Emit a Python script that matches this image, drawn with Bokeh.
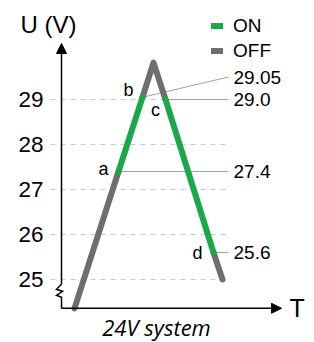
from bokeh.plotting import figure
from bokeh.models import (Range1d, FixedTicker, Label, Arrow, NormalHead,
                          Legend, LegendItem)
from bokeh.embed import file_html
from bokeh.resources import INLINE

# ---------------- data ----------------
point_names = ["start", "a", "b", "peak", "c", "d", "end"]
times = [13, 57, 81, 92, 104, 152, 161]          # T (arbitrary units)
volts = [24.36, 27.4, 29.05, 29.82, 29.0, 25.6, 25.0]  # U (V)
y_ticks = [25, 26, 27, 28, 29]
y_tick_labels = ["25", "26", "27", "28", "29"]

on_runs = [["a", "b"], ["c", "d"]]
off_runs = [["start", "a"], ["b", "peak", "c"], ["d", "end"]]

callout_points = ["b", "c", "a", "d"]
callout_texts = ["29.05", "29.0", "27.4", "25.6"]
callout_label_v = [29.5, 29.0, 27.4, 25.6]

letter_points = ["a", "b", "c", "d"]
letter_offsets = [(-15, 3), (-14, 7), (-10, -10), (-16, 0)]

# ---------------- styles ----------------
GREEN = "#1ba84a"
GRAY = "#6e6e6e"
GRID = "#c8c8c8"
LEADER = "#a0a0a0"
FONT = "Liberation Sans"
PX_V = 1 / 45.0   # volts per pixel

idx = {n: i for i, n in enumerate(point_names)}
t_of = lambda n: times[idx[n]]
v_of = lambda n: volts[idx[n]]

W, H = 314, 342
p = figure(width=W, height=H, output_backend="svg", toolbar_location=None,
           x_axis_location=None, y_axis_location="left",
           x_range=Range1d(-61, 253),
           y_range=Range1d(29 - 243 * PX_V, 29 + 99 * PX_V),
           min_border_left=0, min_border_right=0, min_border_top=0,
           min_border_bottom=0)
p.outline_line_color = None
p.xgrid.visible = False
p.ygrid.visible = False

ax = p.yaxis[0]
ax.fixed_location = -16
ax.ticker = FixedTicker(ticks=y_ticks)
ax.major_label_overrides = {t: s for t, s in zip(y_ticks, y_tick_labels)}
ax.axis_line_color = None
ax.major_tick_line_color = None
ax.minor_tick_line_color = None
ax.major_tick_out = 0
ax.major_tick_in = 0
ax.major_label_standoff = 2
ax.major_label_text_font = FONT
ax.major_label_text_font_size = "22.5px"
ax.major_label_text_color = "black"

# dashed guide lines
p.segment(x0=[-11] * len(y_ticks), x1=[167] * len(y_ticks), y0=y_ticks,
          y1=y_ticks, line_color=GRID, line_width=1, line_dash="5 5")

# axes
floor_v = volts[0]
# y axis lower part with break mark
bx = [0, 0, -5, 1, -5, 0, 0]
by_px = [0, 11, 13, 17, 19, 24, 24]
p.line(x=bx, y=[floor_v + d * PX_V for d in by_px], line_color="black",
       line_width=1.5, line_join="miter")
p.add_layout(Arrow(end=NormalHead(size=10, fill_color="black",
                                  line_color="black", line_width=1),
                   x_start=0, y_start=floor_v + 24 * PX_V,
                   x_end=0, y_end=29 + 56 * PX_V,
                   line_color="black", line_width=1.5))
p.add_layout(Arrow(end=NormalHead(size=10, fill_color="black",
                                  line_color="black", line_width=1),
                   x_start=0, y_start=floor_v, x_end=220, y_end=floor_v,
                   line_color="black", line_width=1.5))

# leader lines
p.segment(x0=[t_of(n) for n in callout_points],
          y0=[v_of(n) for n in callout_points],
          x1=[167] * len(callout_points), y1=callout_label_v,
          line_color=LEADER, line_width=1)

# main traces
off_r = p.multi_line(xs=[[t_of(n) for n in r] for r in off_runs],
                     ys=[[v_of(n) for n in r] for r in off_runs],
                     line_color=GRAY, line_width=6, line_cap="round",
                     line_join="round")
on_r = p.multi_line(xs=[[t_of(n) for n in r] for r in on_runs],
                    ys=[[v_of(n) for n in r] for r in on_runs],
                    line_color=GREEN, line_width=6, line_cap="round",
                    line_join="round")

for txt, v in zip(callout_texts, callout_label_v):
    p.add_layout(Label(x=172, y=v, text=txt, text_baseline="middle",
                       text_align="left", text_font=FONT,
                       text_font_size="19px", text_color="black"))

for n, (dx, dy) in zip(letter_points, letter_offsets):
    p.add_layout(Label(x=t_of(n), y=v_of(n), x_offset=dx, y_offset=dy,
                       text=n, text_baseline="middle", text_align="center",
                       text_font=FONT, text_font_size="18px",
                       text_color="black"))

p.add_layout(Label(x=-41, y=29 + 75 * PX_V, text="U (V)",
                   text_baseline="middle", text_align="left",
                   text_font=FONT, text_font_size="24px",
                   text_color="black"))
p.add_layout(Label(x=228, y=floor_v, text="T", text_baseline="middle",
                   text_align="left", text_font=FONT,
                   text_font_size="25px", text_color="black"))
p.add_layout(Label(x=95, y=29 - 227 * PX_V, text="24V system",
                   text_baseline="middle", text_align="center",
                   text_font="Open Sans", text_font_style="italic",
                   text_font_size="22px", text_color="black"))

legend = Legend(items=[LegendItem(label="ON", renderers=[on_r]),
                       LegendItem(label="OFF", renderers=[off_r])],
                location=(211, 278.8), orientation="vertical",
                padding=0, margin=0, spacing=0,
                glyph_width=12, glyph_height=25, label_height=25,
                label_standoff=10, label_text_font=FONT,
                label_text_font_size="19px", label_text_color="black",
                label_text_baseline="middle",
                background_fill_alpha=0, border_line_color=None)
p.add_layout(legend)

open("out.html", "w").write(file_html(p, INLINE))
